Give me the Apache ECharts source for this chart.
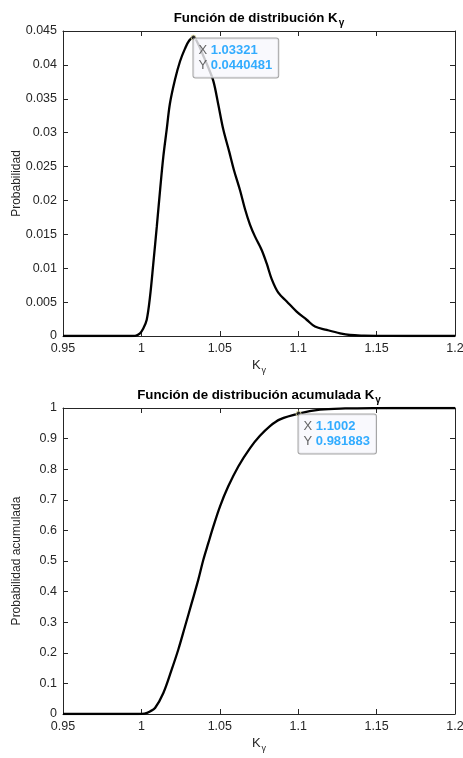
<!DOCTYPE html>
<html><head><meta charset="utf-8">
<script src="https://cdn.jsdelivr.net/npm/echarts@6/dist/echarts.min.js"></script>
<style>html,body{margin:0;padding:0;background:#fff}#c{width:463px;height:758px}</style>
</head><body><div id="c"></div>
<script>
// ---- data ----
const pdfX = [0.95, 0.99, 0.996, 0.9991, 1.0012, 1.0034, 1.0055, 1.0076, 1.0098, 1.0119, 1.0140, 1.0161, 1.0182, 1.0214, 1.0246, 1.0278, 1.0305, 1.03321, 1.0362, 1.0392, 1.0425, 1.0459, 1.0490, 1.0522, 1.0560, 1.0590, 1.0629, 1.0661, 1.0693, 1.0724, 1.0767, 1.0799, 1.0831, 1.0873, 1.0927, 1.0990, 1.1054, 1.1107, 1.1182, 1.1267, 1.1330, 1.1420, 1.1500, 1.1700, 1.2];
const pdfY = [0, 0, 0.00003, 0.0004, 0.0011, 0.0024, 0.0058, 0.0107, 0.0161, 0.0215, 0.0265, 0.0304, 0.0343, 0.0378, 0.0405, 0.0424, 0.0436, 0.0440481, 0.0431, 0.0415, 0.0397, 0.0376, 0.0342, 0.0305, 0.0272, 0.0245, 0.0215, 0.0187, 0.0164, 0.0147, 0.0127, 0.0107, 0.0084, 0.0064, 0.0051, 0.0036, 0.0024, 0.0014, 0.0009, 0.0004, 0.00015, 0.00005, 0.00002, 0, 0];
const cdfX = [0.95, 0.99, 0.998, 1.0020, 1.0055, 1.0087, 1.0140, 1.0193, 1.0235, 1.0278, 1.0321, 1.0363, 1.0395, 1.0427, 1.0459, 1.0501, 1.0554, 1.0618, 1.0693, 1.0756, 1.0820, 1.0884, 1.1002, 1.1139, 1.1300, 1.1500, 1.1700, 1.2];
const cdfY = [0, 0, 0, 0.0015, 0.0085, 0.0196, 0.0686, 0.145, 0.210, 0.286, 0.363, 0.439, 0.504, 0.559, 0.613, 0.678, 0.744, 0.809, 0.869, 0.909, 0.941, 0.963, 0.981883, 0.9945, 0.9985, 0.9998, 1, 1];
const tipPdf = [1.03321, 0.0440481];
const tipCdf = [1.1002, 0.981883];
const titles = ['Función de distribución K', 'Función de distribución acumulada K'];
const yNames = ['Probabilidad', 'Probabilidad acumulada'];
const xName = 'K';
const sub = 'γ';

const FONT = '"Liberation Sans", Arial, Helvetica, sans-serif';
const AX = '#262626';
const chart = echarts.init(document.getElementById('c'), null, {renderer: 'canvas'});

function zip(a, b) { return a.map((v, i) => [v, b[i]]); }

const grids = [
  {left: 63, top: 31, width: 392, height: 305, containLabel: false, outerBoundsMode: 'none'},
  {left: 63, top: 408, width: 392, height: 306, containLabel: false, outerBoundsMode: 'none'}
];
const yRanges = [[0, 0.045, 0.005], [0, 1, 0.1]];

const xAxes = [], yAxes = [];
grids.forEach((g, i) => {
  xAxes.push({
    gridIndex: i, type: 'value', min: 0.95, max: 1.2, interval: 0.05, position: 'bottom',
    axisLine: {show: true, onZero: false, lineStyle: {color: AX, width: 1}},
    axisTick: {show: true, inside: true, length: 5, lineStyle: {color: AX}},
    axisLabel: {color: AX, fontSize: 12.5, fontFamily: FONT, margin: 6},
    splitLine: {show: false},
    name: '{k|' + xName + '}{s|' + sub + '}', nameLocation: 'middle', nameGap: 20, nameMoveOverlap: false,
    nameTextStyle: {color: AX, fontFamily: FONT, fontSize: 13,
      rich: {k: {fontSize: 13, color: AX, fontFamily: FONT}, s: {fontSize: 9, color: AX, fontFamily: FONT, padding: [10, 0, 0, 1]}}}
  });
  xAxes.push({
    gridIndex: i, type: 'value', min: 0.95, max: 1.2, interval: 0.05, position: 'top',
    axisLine: {show: true, onZero: false, lineStyle: {color: AX, width: 1}},
    axisTick: {show: true, inside: true, length: 5, lineStyle: {color: AX}},
    axisLabel: {show: false}, splitLine: {show: false}
  });
  const r = yRanges[i];
  yAxes.push({
    gridIndex: i, type: 'value', min: r[0], max: r[1], interval: r[2], position: 'left',
    axisLine: {show: true, onZero: false, lineStyle: {color: AX, width: 1}},
    axisTick: {show: true, inside: true, length: 5, lineStyle: {color: AX}},
    axisLabel: {color: AX, fontSize: 12.5, fontFamily: FONT, margin: 6},
    splitLine: {show: false},
    name: yNames[i], nameLocation: 'middle', nameGap: 40, nameRotate: 90, nameMoveOverlap: false,
    nameTextStyle: {color: AX, fontFamily: FONT, fontSize: 12}
  });
  yAxes.push({
    gridIndex: i, type: 'value', min: r[0], max: r[1], interval: r[2], position: 'right',
    axisLine: {show: true, onZero: false, lineStyle: {color: AX, width: 1}},
    axisTick: {show: true, inside: true, length: 5, lineStyle: {color: AX}},
    axisLabel: {show: false}, splitLine: {show: false}
  });
});

function tipSeries(pt, xi, yi, xs, ys) {
  return {
    type: 'scatter', xAxisIndex: xi, yAxisIndex: yi, z: 10,
    symbolSize: 5, itemStyle: {color: '#262626', borderColor: '#f3efb0', borderWidth: 1},
    data: [pt],
    label: {
      show: true, position: [3, 4], align: 'left', verticalAlign: 'top',
      formatter: '{x|X }{v|' + xs + '}\n{x|Y }{v|' + ys + '}',
      backgroundColor: '#f8f8fc', borderColor: '#8f8f8f', borderWidth: 1, borderRadius: 2,
      padding: [4, 6, 5, 5],
      rich: {
        x: {fontSize: 13, color: '#404040', fontFamily: FONT, lineHeight: 15},
        v: {fontSize: 13, color: '#0099ff', fontWeight: 'bold', fontFamily: FONT, lineHeight: 15}
      }
    }
  };
}

const option = {
  animation: false,
  backgroundColor: '#ffffff',
  title: titles.map((t, i) => ({
    text: t + '{s|' + sub + '}',
    left: 254, top: i === 0 ? 3 : 380, textAlign: 'center',
    textStyle: {fontSize: 13.3, fontWeight: 'bold', color: '#000', fontFamily: FONT,
      rich: {s: {fontSize: 10, fontWeight: 'bold', color: '#000', fontFamily: FONT, padding: [10, 0, 0, 1]}}}
  })),
  grid: grids,
  xAxis: xAxes,
  yAxis: yAxes,
  series: [
    {type: 'line', xAxisIndex: 0, yAxisIndex: 0, data: zip(pdfX, pdfY), showSymbol: false, smooth: 0.35,
     lineStyle: {color: '#000', width: 2.3}},
    {type: 'line', xAxisIndex: 2, yAxisIndex: 2, data: zip(cdfX, cdfY), showSymbol: false, smooth: 0.35,
     lineStyle: {color: '#000', width: 2.3}},
    tipSeries(tipPdf, 0, 0, '1.03321', '0.0440481'),
    tipSeries(tipCdf, 2, 2, '1.1002', '0.981883')
  ]
};
chart.setOption(option);
</script></body></html>
